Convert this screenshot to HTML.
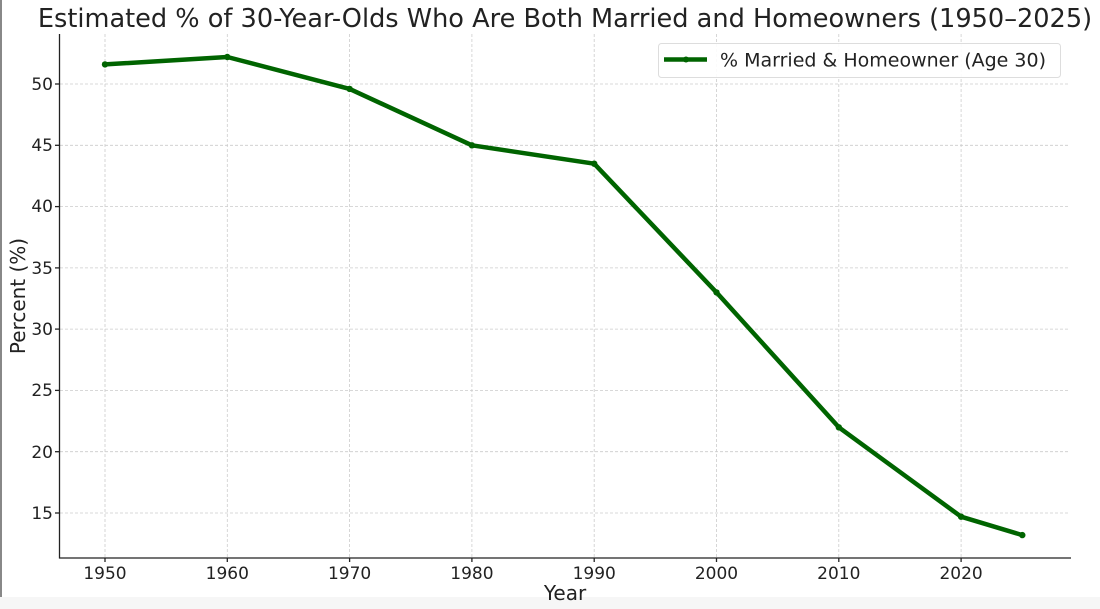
<!DOCTYPE html>
<html><head><meta charset="utf-8"><style>
html,body{margin:0;padding:0;background:#fff;}
svg{display:block;font-family:"DejaVu Sans","Liberation Sans",sans-serif;}
</style></head><body>
<svg width="1100" height="609" viewBox="0 0 1100 609">
<rect x="0" y="0" width="1100" height="609" fill="#fff"/>
<line x1="1" y1="0" x2="1" y2="609" stroke="#888" stroke-width="2"/>
<rect x="0" y="597" width="1100" height="12" fill="#f6f6f6"/>
<text x="565" y="27" font-size="25.6" text-anchor="middle" fill="#222">Estimated % of 30-Year-Olds Who Are Both Married and Homeowners (1950–2025)</text>
<g stroke="#ccc" stroke-width="0.8" stroke-dasharray="3,2">
<line x1="60" x2="1070" y1="84" y2="84"/><line x1="60" x2="1070" y1="145.3" y2="145.3"/>
<line x1="60" x2="1070" y1="206.6" y2="206.6"/><line x1="60" x2="1070" y1="267.9" y2="267.9"/>
<line x1="60" x2="1070" y1="329.1" y2="329.1"/><line x1="60" x2="1070" y1="390.4" y2="390.4"/>
<line x1="60" x2="1070" y1="451.7" y2="451.7"/><line x1="60" x2="1070" y1="513" y2="513"/>
<line y1="34" y2="558" x1="105" x2="105"/><line y1="34" y2="558" x1="227.3" x2="227.3"/>
<line y1="34" y2="558" x1="349.6" x2="349.6"/><line y1="34" y2="558" x1="471.9" x2="471.9"/>
<line y1="34" y2="558" x1="594.2" x2="594.2"/><line y1="34" y2="558" x1="716.5" x2="716.5"/>
<line y1="34" y2="558" x1="838.8" x2="838.8"/><line y1="34" y2="558" x1="961.1" x2="961.1"/>
</g>
<g stroke="#222" stroke-width="1.3">
<line x1="59.5" y1="34" x2="59.5" y2="558.5"/><line x1="59" y1="558" x2="1071" y2="558"/>
<line x1="55" x2="59" y1="84" y2="84"/><line x1="55" x2="59" y1="145.3" y2="145.3"/>
<line x1="55" x2="59" y1="206.6" y2="206.6"/><line x1="55" x2="59" y1="267.9" y2="267.9"/>
<line x1="55" x2="59" y1="329.1" y2="329.1"/><line x1="55" x2="59" y1="390.4" y2="390.4"/>
<line x1="55" x2="59" y1="451.7" y2="451.7"/><line x1="55" x2="59" y1="513" y2="513"/>
<line y1="558" y2="562" x1="105" x2="105"/><line y1="558" y2="562" x1="227.3" x2="227.3"/>
<line y1="558" y2="562" x1="349.6" x2="349.6"/><line y1="558" y2="562" x1="471.9" x2="471.9"/>
<line y1="558" y2="562" x1="594.2" x2="594.2"/><line y1="558" y2="562" x1="716.5" x2="716.5"/>
<line y1="558" y2="562" x1="838.8" x2="838.8"/><line y1="558" y2="562" x1="961.1" x2="961.1"/>
</g>
<g font-size="17" fill="#222" text-anchor="end">
<text x="53" y="90">50</text><text x="53" y="151">45</text><text x="53" y="212">40</text>
<text x="53" y="274">35</text><text x="53" y="335">30</text><text x="53" y="396">25</text>
<text x="53" y="458">20</text><text x="53" y="519">15</text>
</g>
<g font-size="17" fill="#222" text-anchor="middle">
<text x="105" y="579">1950</text><text x="227.3" y="579">1960</text><text x="349.6" y="579">1970</text>
<text x="471.9" y="579">1980</text><text x="594.2" y="579">1990</text><text x="716.5" y="579">2000</text>
<text x="838.8" y="579">2010</text><text x="961.1" y="579">2020</text>
</g>
<text x="565" y="600" font-size="20" text-anchor="middle" fill="#222">Year</text>
<text transform="translate(25,296) rotate(-90)" font-size="20" text-anchor="middle" fill="#222">Percent (%)</text>
<polyline fill="none" stroke="#006400" stroke-width="4.5" stroke-linejoin="round"
points="105,64.4 227.3,57 349.6,88.9 471.9,145.3 594.2,163.7 716.5,292.4 838.8,427.3 961.1,516.7 1022.3,535.1"/>
<g fill="#006400">
<circle cx="105" cy="64.4" r="3.2"/><circle cx="227.3" cy="57" r="3.2"/><circle cx="349.6" cy="88.9" r="3.2"/>
<circle cx="471.9" cy="145.3" r="3.2"/><circle cx="594.2" cy="163.7" r="3.2"/><circle cx="716.5" cy="292.4" r="3.2"/>
<circle cx="838.8" cy="427.3" r="3.2"/><circle cx="961.1" cy="516.7" r="3.2"/><circle cx="1022.3" cy="535.1" r="3.2"/>
</g>
<rect x="658.5" y="43.5" width="402" height="34" rx="3" fill="#fff" fill-opacity="0.9" stroke="#ddd"/>
<line x1="664" y1="59.5" x2="707" y2="59.5" stroke="#006400" stroke-width="4.5"/>
<circle cx="686" cy="59.5" r="3" fill="#006400"/>
<text x="720" y="66.5" font-size="19" fill="#222">% Married &amp; Homeowner (Age 30)</text>
</svg>
</body></html>
